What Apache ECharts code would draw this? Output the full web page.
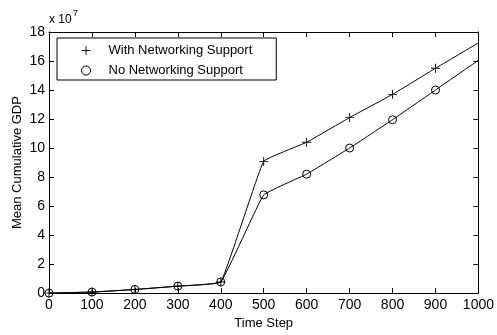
<!DOCTYPE html>
<html>
<head>
<meta charset="utf-8">
<script src="https://cdn.jsdelivr.net/npm/echarts@6/dist/echarts.min.js"></script>
<style>
html,body{margin:0;padding:0;background:#fff;}
#chart{width:497px;height:335px;}
</style>
</head>
<body>
<div id="chart"></div>
<script>
// Data (GDP in units of 1e7)
const timeSteps = [0, 100, 200, 300, 400, 500, 600, 700, 800, 900, 1000];
const withNetworking = [0, 0.07, 0.25, 0.48, 0.77, 9.08, 10.4, 12.1, 13.7, 15.5, 17.25];
const noNetworking = [0, 0.07, 0.25, 0.48, 0.77, 6.77, 8.2, 10.0, 11.95, 14.0, 16.05];
const seriesNames = ['With Networking Support', 'No Networking Support'];
const xTicks = [0, 100, 200, 300, 400, 500, 600, 700, 800, 900, 1000];
const yTicks = [0, 2, 4, 6, 8, 10, 12, 14, 16, 18];

const FONT = '"Liberation Sans", Arial, sans-serif';
const TICKFONT = '"Liberation Sans Narrow", "Arial Narrow", "Liberation Sans", sans-serif';
const plusPath = 'path://M0,4.5H10V5.5H0Z M4.5,0H5.5V10H4.5Z';
const markerEvery = 100;

function buildData(vals) {
  return timeSteps.map((t, i) => {
    const d = { value: [t, vals[i]] };
    if (t % markerEvery !== 0 || t === 1000) d.symbol = 'none';
    return d;
  });
}

const chart = echarts.init(document.getElementById('chart'), null, { renderer: 'canvas' });
const axisCommon = {
  axisLine: { show: true, onZero: false, lineStyle: { color: '#000', width: 1 } },
  axisTick: { show: true, inside: true, length: 5, lineStyle: { color: '#000' } },
  splitLine: { show: false },
};
chart.setOption({
  backgroundColor: '#fff',
  animation: false,
  textStyle: { fontFamily: FONT },
  grid: { left: 49, right: 12, top: 32, bottom: 38, containLabel: false },
  graphic: [
    { type: 'text', left: 49, top: 14, style: { text: 'x 10', font: '12px ' + FONT, fill: '#000' } },
    { type: 'text', left: 73, top: 9, style: { text: '7', font: '9px ' + FONT, fill: '#000' } }
  ],
  legend: {
    orient: 'vertical',
    left: 57, top: 38,
    backgroundColor: '#fff',
    borderColor: '#000', borderWidth: 1, borderRadius: 0,
    padding: [5, 24, 2, 24],
    itemGap: 5,
    itemWidth: 9, itemHeight: 9,
    textStyle: { fontFamily: FONT, fontSize: 13, color: '#000', padding: [0, 0, 0, 13], lineHeight: 15 },
    data: [
      { name: seriesNames[0], icon: plusPath, itemStyle: { color: '#000', borderWidth: 0 } },
      { name: seriesNames[1], icon: 'circle', itemStyle: { color: '#fff', borderColor: '#000', borderWidth: 1 } }
    ]
  },
  xAxis: [
    Object.assign({
      type: 'value', min: 0, max: 1000, interval: 100, position: 'bottom',
      name: 'Time Step', nameLocation: 'middle', nameGap: 21,
      nameTextStyle: { fontFamily: FONT, fontSize: 13, color: '#000' },
      axisLabel: { fontFamily: TICKFONT, fontSize: 14, color: '#000', margin: 5,
        formatter: v => String(v) }
    }, axisCommon),
    Object.assign({
      type: 'value', min: 0, max: 1000, interval: 100, position: 'top',
      axisLabel: { show: false }
    }, axisCommon)
  ],
  yAxis: [
    Object.assign({
      type: 'value', min: 0, max: 18, interval: 2, position: 'left',
      name: 'Mean Cumulative GDP', nameLocation: 'middle', nameGap: 25,
      nameMoveOverlap: false,
      nameTextStyle: { fontFamily: FONT, fontSize: 13, color: '#000' },
      axisLabel: { fontFamily: TICKFONT, fontSize: 14, color: '#000', margin: 4,
        formatter: v => String(v) }
    }, axisCommon),
    Object.assign({
      type: 'value', min: 0, max: 18, interval: 2, position: 'right',
      axisLabel: { show: false }
    }, axisCommon)
  ],
  series: [
    {
      name: seriesNames[0], type: 'line', data: buildData(withNetworking),
      smooth: 0.08, symbol: plusPath, symbolSize: 9, showAllSymbol: true,
      lineStyle: { color: '#000', width: 1 },
      itemStyle: { color: '#000', borderWidth: 0 },
      z: 3
    },
    {
      name: seriesNames[1], type: 'line', data: buildData(noNetworking),
      smooth: 0.08, symbol: 'circle', symbolSize: 8, showAllSymbol: true,
      lineStyle: { color: '#000', width: 1 },
      itemStyle: { color: 'rgba(255,255,255,0)', borderColor: '#000', borderWidth: 1 },
      z: 2
    }
  ]
});
</script>
</body>
</html>
